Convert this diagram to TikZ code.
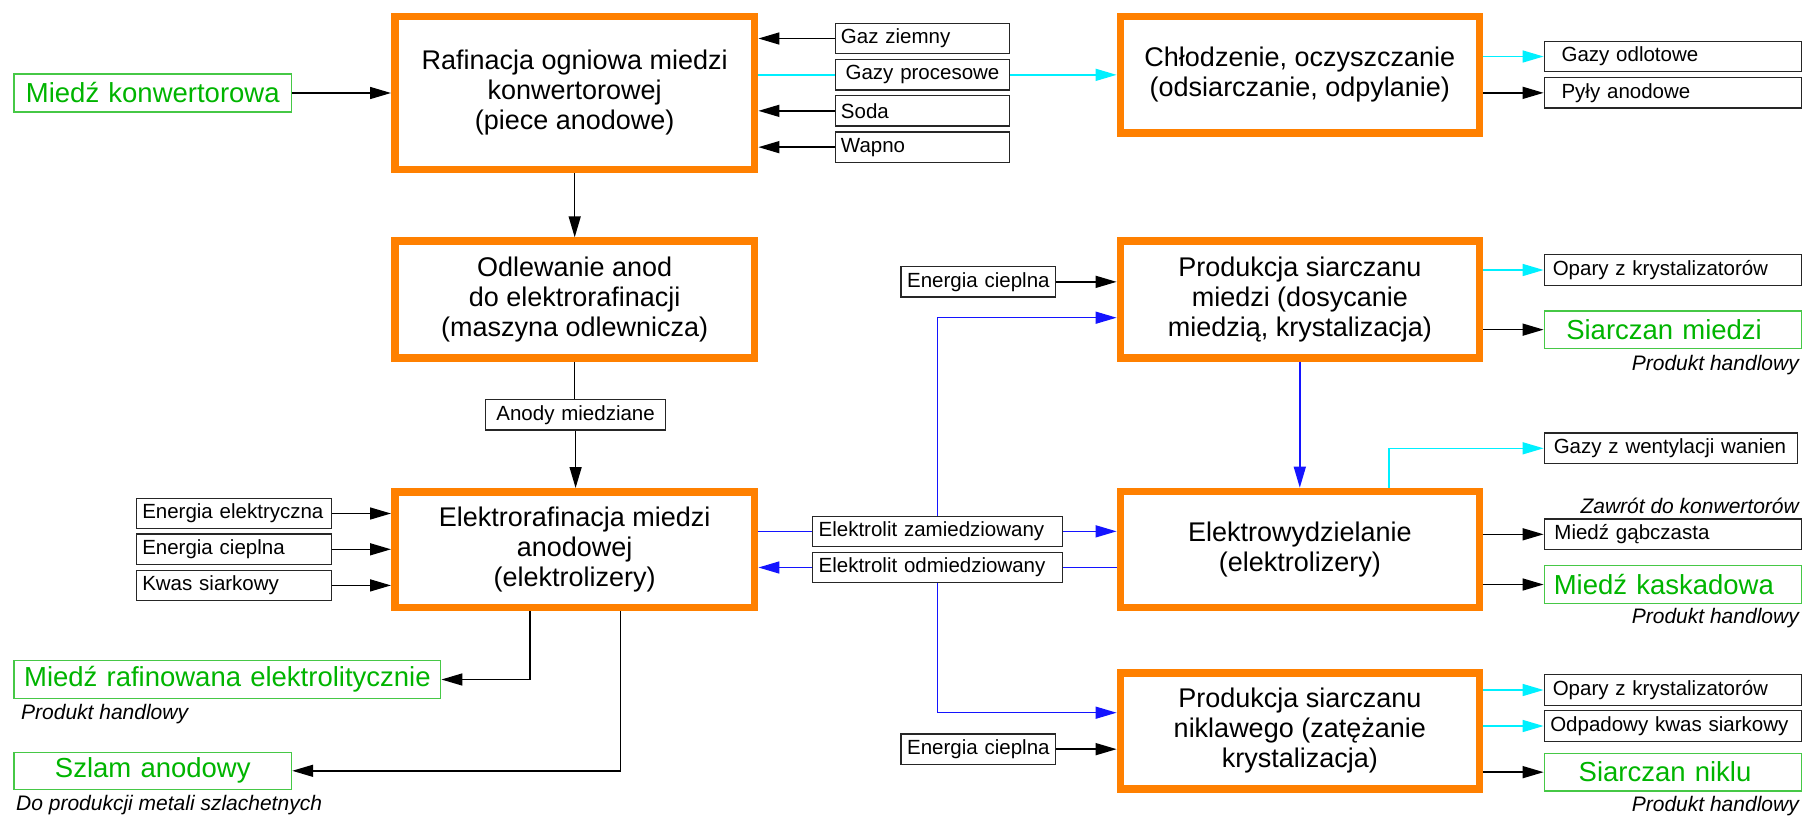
\documentclass[tikz,border=0pt]{standalone}
\usepackage{fontspec}
\setmainfont{Liberation Sans}
\usetikzlibrary{arrows.meta,calc}
\definecolor{orng}{RGB}{255,128,0}
\definecolor{grntxt}{RGB}{0,180,0}
\definecolor{grnline}{RGB}{70,200,70}
\definecolor{cyn}{RGB}{0,240,255}
\definecolor{blu}{RGB}{20,20,255}
\newcommand\fnmain{\fontsize{27}{30}\selectfont}
\newcommand\fnsmall{\fontsize{20.5}{24}\selectfont}
\newcommand\fngreen{\fontsize{27.5}{32}\selectfont}
\newcommand\fnit{\fontsize{21}{24}\selectfont\itshape}
\begin{document}
\begin{tikzpicture}[x=1pt,y=-1pt,
  mbox/.style={draw=orng,line width=7.5pt,align=center,font=\fnmain,inner sep=0pt},
  sbox/.style={draw=black!85,line width=1.3pt,font=\fnsmall,minimum height=30.4pt,inner ysep=0pt,anchor=west,align=left},
  gbox/.style={draw=grnline,line width=1.3pt,text=grntxt,font=\fngreen,inner ysep=0pt,anchor=west,align=center},
  lbl/.style={font=\fnit,inner sep=0pt},
  ln/.style={line width=1.5pt},
  arr/.style={-{Triangle[length=21pt,width=12pt]}}]
\useasboundingbox (0,0) rectangle (1802,817);

% main process boxes
\node[mbox,minimum width=359.9pt,minimum height=152.8pt] (B1) at (574.7,92.85) {Rafinacja ogniowa miedzi\\konwertorowej\\(piece anodowe)};
\node[mbox,minimum width=359.9pt,minimum height=116.9pt] (B2) at (574.7,299.5) {Odlewanie anod\\do elektrorafinacji\\(maszyna odlewnicza)};
\node[mbox,minimum width=359.9pt,minimum height=115.5pt] (B3) at (574.7,549.5) {Elektrorafinacja miedzi\\anodowej\\(elektrolizery)};
\node[mbox,minimum width=358.9pt,minimum height=116.5pt] (B4) at (1299.8,74.7) {Chłodzenie, oczyszczanie\\(odsiarczanie, odpylanie)};
\node[mbox,minimum width=358.9pt,minimum height=116.9pt] (B5) at (1299.8,299.5) {Produkcja siarczanu\\miedzi (dosycanie\\miedzią, krystalizacja)};
\node[mbox,minimum width=358.9pt,minimum height=115.8pt] (B6) at (1299.8,549.35) {Elektrowydzielanie\\(elektrolizery)};
\node[mbox,minimum width=358.9pt,minimum height=115.9pt] (B7) at (1299.8,731) {Produkcja siarczanu\\niklawego (zatężanie\\krystalizacja)};

% small black boxes
\node[sbox,inner xsep=5.7pt,text width=163.1pt] (gz) at (834.6,38.5) {Gaz ziemny};
\node[sbox,inner xsep=5.7pt,text width=163.1pt,align=center] (gp) at (834.6,74.85) {Gazy procesowe};
\node[sbox,inner xsep=5.7pt,text width=163.1pt] (soda) at (834.6,110.85) {Soda};
\node[sbox,inner xsep=5.7pt,text width=163.1pt] (wapno) at (834.6,147.15) {Wapno};
\node[sbox,inner xsep=17.3pt,text width=222.4pt] (go) at (1543.6,56.5) {Gazy odlotowe};
\node[sbox,inner xsep=17.3pt,text width=222.4pt] (pa) at (1543.6,92.85) {Pyły anodowe};
\node[sbox,inner xsep=4.8pt,text width=145pt,align=center] (ec1) at (900.4,281.85) {Energia cieplna};
\node[sbox,inner xsep=8.5pt,text width=240pt] (op1) at (1543.6,270) {Opary z krystalizatorów};
\node[sbox,inner xsep=8pt,text width=164.1pt,align=center] (anody) at (484.9,414.8) {Anody miedziane};
\node[sbox,inner xsep=5.7pt,text width=183.3pt] (ee) at (135.9,513.5) {Energia elektryczna};
\node[sbox,inner xsep=5.7pt,text width=183.3pt] (ecl) at (135.9,549.3) {Energia cieplna};
\node[sbox,inner xsep=5.7pt,text width=183.3pt] (ks) at (135.9,585.4) {Kwas siarkowy};
\node[sbox,inner xsep=6.4pt,text width=237.5pt] (ez) at (811.6,531.35) {Elektrolit zamiedziowany};
\node[sbox,inner xsep=6.4pt,text width=237.5pt] (eo) at (811.6,567.5) {Elektrolit odmiedziowany};
\node[sbox,inner xsep=9.5pt,text width=234.4pt] (gw) at (1543.6,448.3) {Gazy z wentylacji wanien};
\node[sbox,inner xsep=10.2pt,text width=236.6pt] (mg) at (1543.6,534.3) {Miedź gąbczasta};
\node[sbox,inner xsep=4.8pt,text width=145pt,align=center] (ec2) at (900.4,749.15) {Energia cieplna};
\node[sbox,inner xsep=8.5pt,text width=240pt] (op2) at (1543.6,690) {Opary z krystalizatorów};
\node[sbox,inner xsep=6pt,text width=245pt] (ok) at (1543.6,726) {Odpadowy kwas siarkowy};

% green product boxes
\node[gbox,inner xsep=5pt,text width=267.5pt,minimum height=38pt] (g1) at (13.4,93) {Miedź konwertorowa};
\node[gbox,inner xsep=9.6pt,text width=407.5pt,minimum height=37.6pt] (g2) at (13.4,679.5) {Miedź rafinowana elektrolitycznie};
\node[gbox,inner xsep=5pt,text width=267.5pt,minimum height=37pt] (g3) at (13.4,770.8) {Szlam anodowy};
\node[gbox,inner xsep=22pt,text width=213pt,minimum height=37.3pt,align=left] (g4) at (1543.6,329.65) {Siarczan miedzi};
\node[gbox,inner xsep=9.5pt,text width=238pt,minimum height=37.6pt,align=left] (g5) at (1543.6,584.5) {Miedź kaskadowa};
\node[gbox,inner xsep=34.4pt,text width=188.2pt,minimum height=37.7pt,align=left] (g6) at (1543.6,772.15) {Siarczan niklu};

% italic notes
\node[lbl,anchor=east] (ph1) at (1799,365) {Produkt handlowy};
\node[lbl,anchor=east] (zaw) at (1799,506) {Zawrót do konwertorów};
\node[lbl,anchor=east] (ph2) at (1799,618) {Produkt handlowy};
\node[lbl,anchor=west] (ph3) at (21,714) {Produkt handlowy};
\node[lbl,anchor=west] (dop) at (16,805) {Do produkcji metali szlachetnych};
\node[lbl,anchor=east] (ph4) at (1799,806) {Produkt handlowy};

% turning points
\coordinate (t5) at (936.8,317.7);
\coordinate (t7) at (936.8,712.7);
\coordinate (t6) at (1388.9,448.3);
\coordinate (t3a) at (530,679.5);
\coordinate (t3b) at (620.3,771);

% connectors
\draw[ln,arr] (g1.east) -- (g1.east -| B1.west);
\draw[ln,arr] (gz.west) -- (gz.west -| B1.east);
\draw[ln,cyn] (gp.west -| B1.east) -- (gp.west);
\draw[ln,cyn,arr] (gp.east) -- (gp.east -| B4.west);
\draw[ln,arr] (soda.west) -- (soda.west -| B1.east);
\draw[ln,arr] (wapno.west) -- (wapno.west -| B1.east);
\draw[ln,cyn,arr] (go.west -| B4.east) -- (go.west);
\draw[ln,arr] (pa.west -| B4.east) -- (pa.west);
\draw[ln,arr] (B1.south) -- (B2.north);
\draw[ln] (B2.south) -- (B2.south |- anody.north);
\draw[ln,arr] (anody.south) -- (anody.south |- B3.north);
\draw[ln,arr] (ee.east) -- (ee.east -| B3.west);
\draw[ln,arr] (ecl.east) -- (ecl.east -| B3.west);
\draw[ln,arr] (ks.east) -- (ks.east -| B3.west);
\draw[ln,blu] (ez.west -| B3.east) -- (ez.west);
\draw[ln,blu,arr] (ez.east) -- (ez.east -| B6.west);
\draw[ln,blu] (eo.east -| B6.west) -- (eo.east);
\draw[ln,blu,arr] (eo.west) -- (eo.west -| B3.east);
\draw[ln,blu,arr] (ez.north) |- (t5 -| B5.west);
\draw[ln,blu,arr] (eo.south) |- (t7 -| B7.west);
\draw[ln,arr] (ec1.east) -- (ec1.east -| B5.west);
\draw[ln,arr] (ec2.east) -- (ec2.east -| B7.west);
\draw[ln,cyn,arr] (op1.west -| B5.east) -- (op1.west);
\draw[ln,arr] (g4.west -| B5.east) -- (g4.west);
\draw[ln,blu,arr] (B5.south) -- (B6.north);
\draw[ln,cyn,arr] (t6 |- B6.north) |- (gw.west);
\draw[ln,arr] (mg.west -| B6.east) -- (mg.west);
\draw[ln,arr] (g5.west -| B6.east) -- (g5.west);
\draw[ln,cyn,arr] (op2.west -| B7.east) -- (op2.west);
\draw[ln,cyn,arr] (ok.west -| B7.east) -- (ok.west);
\draw[ln,arr] (g6.west -| B7.east) -- (g6.west);
\draw[ln,arr] (t3a |- B3.south) |- (g2.east);
\draw[ln,arr] (t3b |- B3.south) |- (g3.east);
\end{tikzpicture}
\end{document}
